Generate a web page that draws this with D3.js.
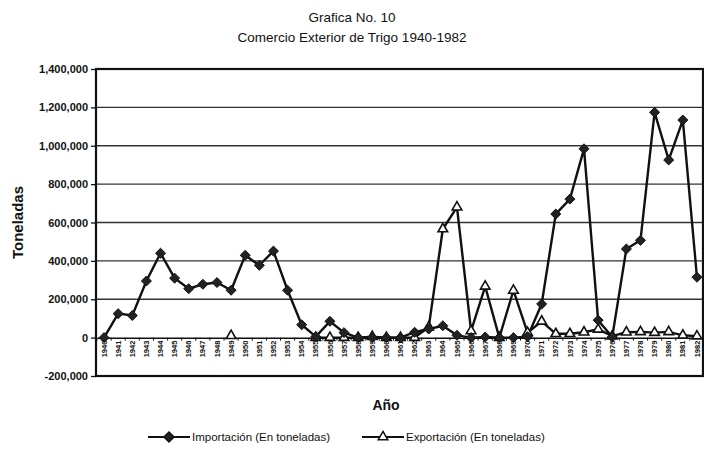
<!DOCTYPE html>
<html>
<head>
<meta charset="utf-8">
<script src="https://cdn.jsdelivr.net/npm/d3@7"></script>
<style>
  body { margin: 0; background: #fff; }
  text { font-family: Arial, "Liberation Sans", sans-serif; fill: #111; }
</style>
</head>
<body>
<svg id="chart" width="704" height="449"></svg>
<script>
const years = ["1940","1941","1942","1943","1944","1945","1946","1947","1948","1949",
  "1950","1951","1952","1953","1954","1955","1956","1957","1958","1959",
  "1960","1961","1962","1963","1964","1965","1966","1967","1968","1969",
  "1970","1971","1972","1973","1974","1975","1976","1977","1978","1979",
  "1980","1981","1982"];

const importacion = [0,125000,115000,295000,440000,310000,255000,278000,287000,247000,
  429000,377000,451000,247000,67000,5000,85000,26000,0,0,
  0,0,28000,45000,62000,12000,0,3000,0,0,
  5000,175000,644000,722000,984000,91000,3000,462000,507000,1174000,
  926000,1134000,315000];

const exportacion = [null,null,null,null,null,null,null,null,null,10000,
  null,null,null,null,null,0,0,0,0,5000,
  0,0,0,55000,566000,680000,35000,267000,0,246000,
  26000,85000,20000,20000,28000,43000,8000,28000,30000,26000,
  30000,12000,8000];

const yTicks = [-200000,0,200000,400000,600000,800000,1000000,1200000,1400000];

const margin = { top: 69, right: 1, bottom: 73, left: 96 };
const width = 704 - margin.left - margin.right;
const height = 449 - margin.top - margin.bottom;

const svg = d3.select("#chart");
const g = svg.append("g")
  .attr("transform", "translate(" + margin.left + "," + margin.top + ")");

const x = d3.scaleBand().domain(years).range([1, width + 1]).padding(0);
const y = d3.scaleLinear().domain([-200000, 1400000]).range([height, 0]);
const fmt = d3.formatLocale({ decimal: ".", thousands: ",", grouping: [3], currency: ["", ""], minus: "-" }).format(",");

// titles
svg.append("text").attr("x", 352).attr("y", 22).attr("text-anchor", "middle")
  .style("font-size", "13.5px").text("Grafica No. 10");
svg.append("text").attr("x", 352).attr("y", 42).attr("text-anchor", "middle")
  .style("font-size", "13.5px").text("Comercio Exterior de Trigo 1940-1982");

// gridlines
g.selectAll(".grid").data(yTicks.filter(d => d !== 0 && d !== -200000 && d !== 1400000))
  .enter().append("line")
  .attr("x1", 0).attr("x2", width)
  .attr("y1", d => y(d)).attr("y2", d => y(d))
  .attr("stroke", "#333").attr("stroke-width", 1.4);

// y axis
const yAxis = g.append("g").call(d3.axisLeft(y).tickValues(yTicks).tickFormat(fmt).tickSize(5).tickPadding(3));
yAxis.select(".domain").remove();
yAxis.selectAll("line").attr("stroke", "#111").attr("stroke-width", 1.3);
yAxis.selectAll("text").style("font-size", "11px").style("font-weight", "bold")
  .style("font-family", "Arial, 'Liberation Sans', sans-serif").attr("fill", "#111");

// frame
g.append("rect").attr("x", 0).attr("y", 0).attr("width", width).attr("height", height)
  .attr("fill", "none").attr("stroke", "#111").attr("stroke-width", 2.2);

// category axis at zero
const xAxis = g.append("g").attr("transform", "translate(0," + y(0) + ")")
  .call(d3.axisBottom(x).tickSize(0).tickFormat(d => d));
xAxis.select(".domain").attr("stroke", "#111").attr("stroke-width", 1.5);
xAxis.selectAll("text")
  .attr("transform", "rotate(-90)")
  .attr("x", -3).attr("y", 0).attr("dy", "0.35em")
  .attr("text-anchor", "end")
  .style("font-size", "7.5px").style("font-weight", "bold")
  .style("font-family", "Arial, 'Liberation Sans', sans-serif").attr("fill", "#111");
xAxis.selectAll(".bticks").data(years).enter().append("line")
  .attr("x1", d => x(d)).attr("x2", d => x(d))
  .attr("y1", 0).attr("y2", 3).attr("stroke", "#111");

// series
const line = d3.line()
  .defined(d => d.v != null)
  .x(d => x(d.year) + x.bandwidth() / 2)
  .y(d => y(d.v));

const impData = years.map((yr, i) => ({ year: yr, v: importacion[i] }));
const expData = years.map((yr, i) => ({ year: yr, v: exportacion[i] }));

g.append("path").datum(impData).attr("fill", "none")
  .attr("stroke", "#111").attr("stroke-width", 2.4).attr("d", line);
g.append("path").datum(expData).attr("fill", "none")
  .attr("stroke", "#111").attr("stroke-width", 2.4).attr("d", line);

const diamond = d3.symbol().type(d3.symbolDiamond2).size(64);
const triangle = d3.symbol().type(d3.symbolTriangle).size(40);

g.selectAll(".exp").data(expData.filter(d => d.v != null)).enter().append("path")
  .attr("d", triangle)
  .attr("transform", d => "translate(" + (x(d.year) + x.bandwidth() / 2) + "," + y(d.v) + ")")
  .attr("fill", "#fff").attr("stroke", "#111").attr("stroke-width", 1.6);

g.selectAll(".imp").data(impData).enter().append("path")
  .attr("d", diamond)
  .attr("transform", d => "translate(" + (x(d.year) + x.bandwidth() / 2) + "," + y(d.v) + ")")
  .attr("fill", "#222").attr("stroke", "#111").attr("stroke-width", 1);

// axis titles
svg.append("text").attr("transform", "translate(23," + (margin.top + height / 2) + ") rotate(-90)")
  .attr("text-anchor", "middle").style("font-size", "15px").style("font-weight", "bold")
  .text("Toneladas");
svg.append("text").attr("x", 386).attr("y", 410).attr("text-anchor", "middle")
  .style("font-size", "14px").style("font-weight", "bold").text("Año");

// legend
const legend = [
  { name: "Importación (En toneladas)", x0: 148, sym: diamond, fill: "#222" },
  { name: "Exportación (En toneladas)", x0: 362, sym: triangle, fill: "#fff" }
];
const lg = svg.append("g").attr("transform", "translate(0,437)");
legend.forEach(l => {
  lg.append("line").attr("x1", l.x0).attr("x2", l.x0 + 42).attr("y1", 0).attr("y2", 0)
    .attr("stroke", "#111").attr("stroke-width", 2);
  lg.append("path").attr("d", l.sym).attr("transform", "translate(" + (l.x0 + 21) + ",0)")
    .attr("fill", l.fill).attr("stroke", "#111").attr("stroke-width", 1.5);
  lg.append("text").attr("x", l.x0 + 44).attr("y", 4).style("font-size", "11.5px").text(l.name);
});
</script>
</body>
</html>
